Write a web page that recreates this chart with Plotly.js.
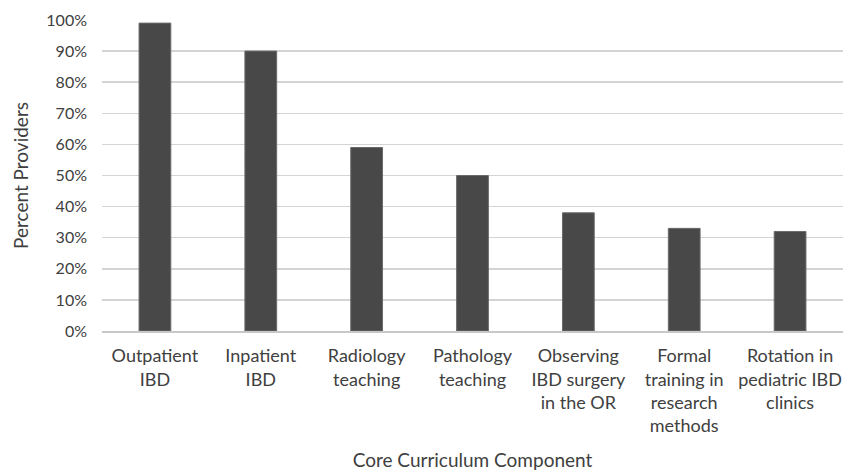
<!DOCTYPE html>
<html>
<head>
<meta charset="utf-8">
<script src="https://cdn.plot.ly/plotly-3.0.1.min.js"></script>
<style>html,body{margin:0;padding:0;background:#fff;}#chart{width:843px;height:471px;}</style>
</head>
<body>
<div id="chart"></div>
<script>
const categories = [
  "Outpatient<br>IBD",
  "Inpatient<br>IBD",
  "Radiology<br>teaching",
  "Pathology<br>teaching",
  "Observing<br>IBD surgery<br>in the OR",
  "Formal<br>training in<br>research<br>methods",
  "Rotation in<br>pediatric IBD<br>clinics"
];
const percentProviders = [0.99, 0.90, 0.59, 0.50, 0.38, 0.33, 0.32];
const yTickValues = [0, 0.1, 0.2, 0.3, 0.4, 0.5, 0.6, 0.7, 0.8, 0.9, 1.0];
const yTickLabels = ["0%", "10%", "20%", "30%", "40%", "50%", "60%", "70%", "80%", "90%", "100%"];

const fontFam = "Lato, 'Open Sans', sans-serif";
const txt = "#404040";

const data = [{
  type: "bar",
  x: categories,
  y: percentProviders,
  width: 0.3,
  marker: {color: "#484848", line: {color: "#6a6a6a", width: 1}},
  hoverinfo: "none"
}];

const layout = {
  width: 843, height: 471,
  margin: {l: 102, r: 0, t: 20, b: 140},
  paper_bgcolor: "#fff", plot_bgcolor: "#fff",
  showlegend: false,
  font: {family: fontFam, size: 16, color: txt},
  xaxis: {
    type: "category",
    tickfont: {family: fontFam, size: 18, color: txt},
    showgrid: false,
    showline: true, linecolor: "#c8c8c8", linewidth: 1.5,
    ticks: "",
    ticklabelstandoff: 8,
    title: {text: "Core Curriculum Component", font: {family: fontFam, size: 19, color: txt}, standoff: 18},
    automargin: false
  },
  yaxis: {
    range: [0, 1.0],
    tickvals: yTickValues,
    ticktext: yTickLabels,
    tickfont: {family: fontFam, size: 16, color: txt},
    showgrid: true, gridcolor: "#d4d4d4", gridwidth: 1.5,
    zeroline: false,
    showline: false,
    ticks: "",
    ticklabelstandoff: 14,
    title: {text: "Percent Providers", font: {family: fontFam, size: 19, color: txt}, standoff: 12},
    automargin: false
  }
};

Plotly.newPlot("chart", data, layout, {displayModeBar: false, staticPlot: true});
</script>
</body>
</html>
